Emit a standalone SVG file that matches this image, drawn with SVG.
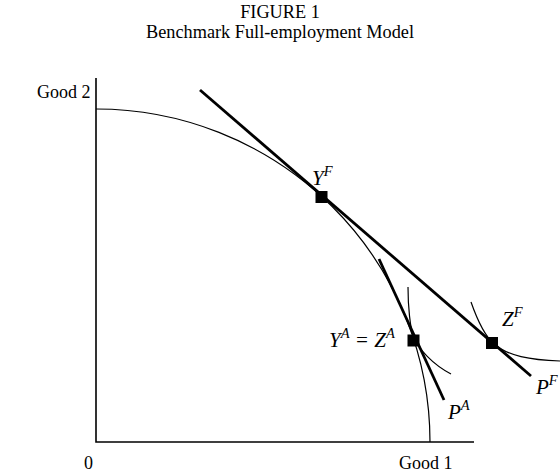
<svg xmlns="http://www.w3.org/2000/svg" width="560" height="474" viewBox="0 0 560 474">
<style>
text{font-family:"Liberation Serif","Times New Roman",serif;fill:#000}
.t{font-size:18px}
.h{font-size:18.3px}
.v{font-size:21px;font-style:italic}
.s{font-size:14.5px;font-style:italic}
.axis{fill:none;stroke:#000;stroke-width:1.6}
.thin{fill:none;stroke:#000;stroke-width:1.2}
.thick{fill:none;stroke:#000;stroke-width:2.8}
.pt{fill:#000}
</style>
<rect width="560" height="474" fill="#fff"/>
<g id="title">
<text class="h" x="280" y="18" text-anchor="middle">FIGURE 1</text>
<text class="h" x="280" y="37.5" text-anchor="middle">Benchmark Full-employment Model</text>
</g>
<g id="axes">
<path class="axis" d="M96,78 V442 H474"/>
<text class="t" x="37" y="98">Good 2</text>
<text class="t" x="84" y="469">0</text>
<text class="t" x="399" y="469">Good 1</text>
</g>
<g id="connectors">
<path id="ppf" class="thin" d="M96,109 A334,333 0 0 1 430,442"/>
<path id="pf" class="thick" d="M200,90 L531,376"/>
<path id="pa" class="thick" d="M379,259 L444,400"/>
<path id="icA" class="thin" d="M408,287 C408,305 410,329 414,338 C419,349 432,364 451,374"/>
<path id="icF" class="thin" d="M471,302 C478,322 485,336 494,344 C508,356 530,360 560,361"/>
</g>
<g id="YF">
<rect class="pt" x="315.5" y="191" width="12" height="12"/>
<text x="312" y="185"><tspan class="v">Y</tspan><tspan class="s" dy="-9">F</tspan></text>
</g>
<g id="A">
<rect class="pt" x="407.5" y="334.5" width="12" height="12"/>
<text x="329" y="347"><tspan class="v">Y</tspan><tspan class="s" dy="-9">A</tspan><tspan class="v" dy="9" font-style="normal"> = </tspan><tspan class="v">Z</tspan><tspan class="s" dy="-9">A</tspan></text>
</g>
<g id="ZF">
<rect class="pt" x="486" y="337" width="12" height="12"/>
<text x="502" y="326"><tspan class="v">Z</tspan><tspan class="s" dy="-9">F</tspan></text>
</g>
<g id="PA">
<text x="448" y="419"><tspan class="v">P</tspan><tspan class="s" dy="-9">A</tspan></text>
</g>
<g id="PF">
<text x="536" y="394"><tspan class="v">P</tspan><tspan class="s" dy="-9">F</tspan></text>
</g>
</svg>
